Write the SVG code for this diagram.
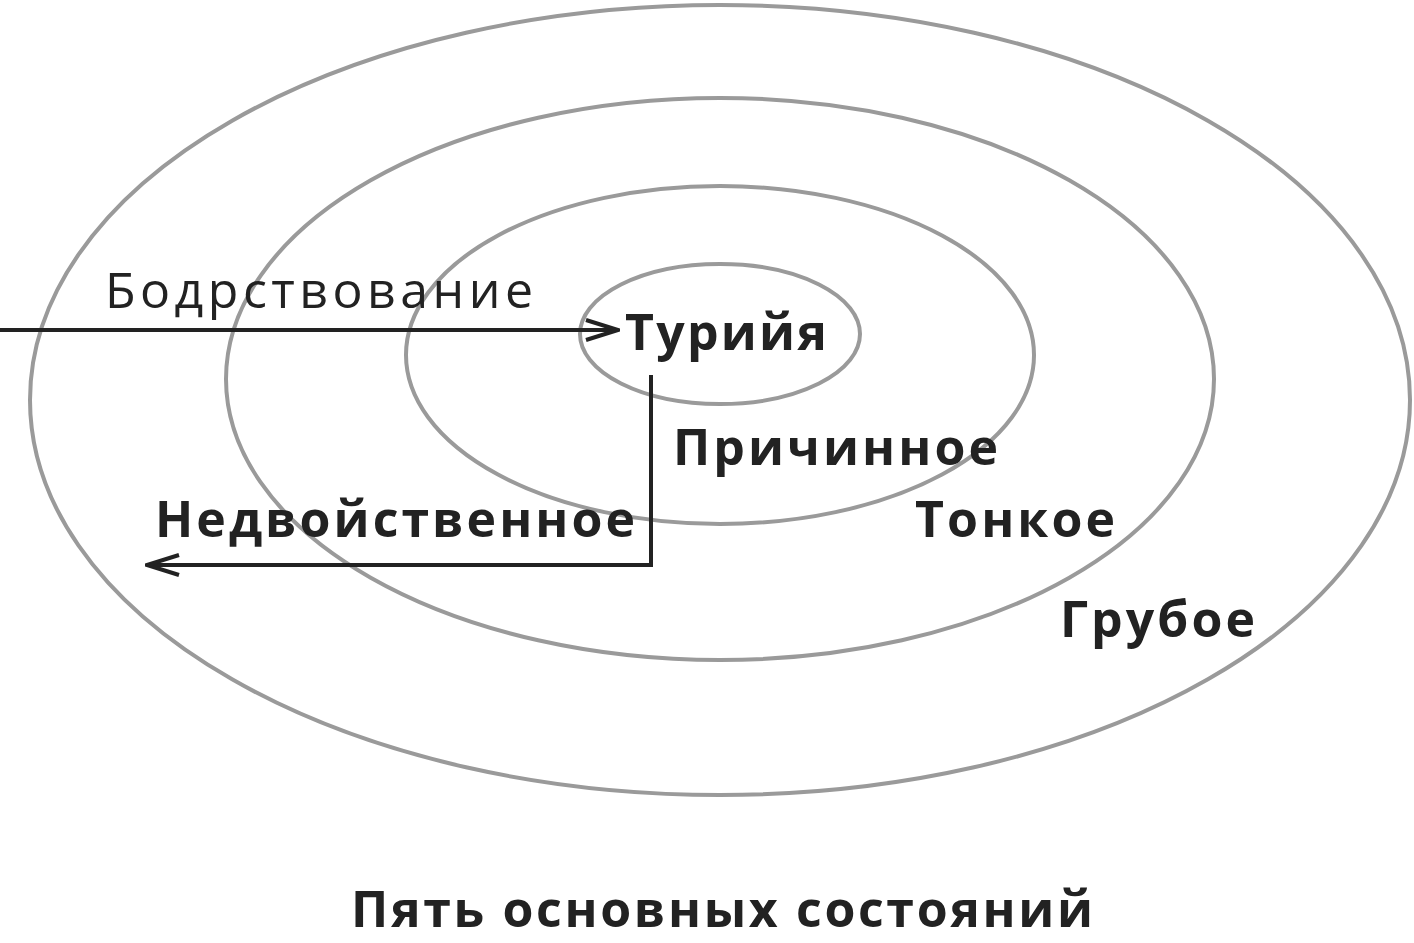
<svg xmlns="http://www.w3.org/2000/svg" width="1414" height="943" viewBox="0 0 1414 943">
<style>
.e{fill:none;stroke:#9a9a9a;stroke-width:4}
.c{fill:none;stroke:#222;stroke-width:4}
text{font-family:"Open Sans","Noto Sans",sans-serif;fill:#222}
.b{font-weight:bold;font-size:50px}
</style>
<defs><marker id="a" markerWidth="12" markerHeight="12" refX="10" refY="6" orient="auto" markerUnits="userSpaceOnUse" viewBox="0 0 12 12"><path d="M0,0 L11,6 L0,12" fill="none" stroke="#222" stroke-width="2.5"/></marker>
<marker id="m" markerWidth="36" markerHeight="24" refX="34" refY="12" orient="auto" markerUnits="userSpaceOnUse" viewBox="0 0 36 24"><path d="M2,2 L34,12 L2,22" fill="none" stroke="#222" stroke-width="4"/></marker></defs>
<g id="gross"><ellipse class="e" cx="720" cy="400" rx="690" ry="395"/><text class="b" x="1060" y="637" textLength="195">Грубое</text></g>
<g id="subtle"><ellipse class="e" cx="720" cy="379" rx="494" ry="281"/><text class="b" x="915" y="537" textLength="200">Тонкое</text></g>
<g id="causal"><ellipse class="e" cx="720" cy="355" rx="314" ry="169"/><text class="b" x="673" y="465" textLength="325">Причинное</text></g>
<g id="turiya"><ellipse class="e" cx="720" cy="334" rx="140" ry="70"/><text class="b" x="625" y="350" textLength="202">Турийя</text></g>
<g id="connectors">
<path class="c" d="M0,330 H618" marker-end="url(#m)"/>
<path class="c" d="M651,375 V565 H147" marker-end="url(#m)"/>
</g>
<text x="105" y="308" font-size="50" textLength="428">Бодрствование</text>
<text class="b" x="155" y="537" textLength="480">Недвойственное</text>
<text class="b" x="351" y="927" textLength="742">Пять основных состояний</text>
</svg>
